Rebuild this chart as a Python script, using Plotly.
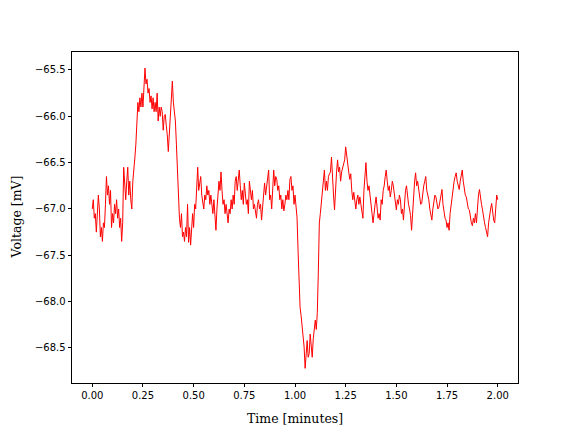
import plotly.graph_objects as go

# sampling step of the recorded trace, minutes
STEP_MIN = 0.005

voltage_mv = [
    -67.0, -66.9, -67.1, -67.05, -67.25, -67.1, -66.85, -67.0, -67.3, -67.2,
    -67.35, -67.15, -67.2, -66.95, -66.65, -66.85, -66.75, -66.95, -66.8, -67.2,
    -67.05, -67.15, -66.95, -67.05, -66.9, -67.1, -67.0, -67.2, -67.1, -67.35,
    -67.15, -66.55, -66.75, -66.9, -66.7, -66.55, -66.85, -66.7, -66.9, -67.0,
    -66.7, -66.6, -66.45, -66.3, -66.05, -65.85, -65.95, -65.8, -65.9, -65.75,
    -65.9, -65.7, -65.48, -65.65, -65.6, -65.75, -65.7, -65.85, -65.78, -65.92,
    -65.8, -65.95, -65.85, -65.95, -65.75, -66.05, -65.9, -66.0, -65.9, -65.95,
    -66.15, -66.0, -65.98, -66.1, -66.2, -66.38, -66.2, -66.1, -65.85, -65.62,
    -65.85, -65.95, -66.05, -66.3, -66.65, -66.95, -67.1, -67.2, -67.05, -67.3,
    -67.25, -67.35, -67.2, -67.3, -66.95, -67.36, -67.2, -67.39, -67.15, -67.05,
    -67.2, -66.95, -67.0, -66.8, -66.55, -66.8, -66.7, -66.65, -66.85, -66.95,
    -67.0, -66.85, -66.9, -66.75, -66.85, -66.8, -66.95, -66.85, -67.0, -67.05,
    -66.9, -67.1, -67.23, -67.0, -66.85, -66.7, -66.8, -66.6, -66.8, -66.95,
    -66.9, -67.05, -66.95, -67.1, -67.15, -67.0, -67.05, -66.9, -67.0, -66.85,
    -66.95, -66.7, -66.65, -66.8, -66.7, -66.58, -66.75, -66.9, -66.8, -66.95,
    -66.72, -66.85, -66.95, -66.9, -67.05, -66.7, -66.85, -66.9, -66.8, -67.0,
    -66.95, -67.05, -67.1, -66.95, -66.9, -67.0, -66.95, -67.12, -66.95, -66.85,
    -66.72, -66.85, -66.75, -66.7, -66.58, -66.9, -66.85, -67.0, -66.8, -66.58,
    -66.75, -66.65, -66.68, -66.8, -66.75, -66.9, -66.85, -67.0, -66.9, -67.02,
    -66.95, -66.85, -66.9, -66.8, -66.9, -66.68, -66.65, -66.8, -66.75, -66.95,
    -66.85, -67.0, -67.09, -67.44, -67.8, -68.06, -68.15, -68.27, -68.4, -68.49,
    -68.72, -68.55, -68.42, -68.6, -68.56, -68.35, -68.5, -68.6, -68.4, -68.27,
    -68.2, -68.3, -68.12, -67.69, -67.15, -67.05, -66.94, -66.8, -66.7, -66.58,
    -66.8, -66.7, -66.8, -66.65, -66.62, -66.6, -66.44, -66.7, -66.85, -67.01,
    -66.75, -66.6, -66.47, -66.6, -66.55, -66.7, -66.6, -66.55, -66.5, -66.47,
    -66.33, -66.45, -66.5, -66.6, -66.68, -66.62, -66.8, -66.9, -66.82, -66.95,
    -67.0, -66.9, -66.85, -66.95, -66.87, -66.95, -67.05, -67.1, -66.8, -66.65,
    -66.5, -66.7, -66.8, -66.75, -66.87, -67.0, -67.05, -67.15, -67.0, -66.95,
    -66.87, -67.0, -67.1, -67.05, -67.12, -66.9, -66.95, -66.8, -66.75, -66.65,
    -66.58, -66.7, -66.8, -66.75, -66.87, -66.8, -66.7, -66.75, -66.85, -66.95,
    -67.01, -66.9, -66.95, -66.85, -66.9, -67.05, -67.0, -67.12, -66.95, -66.8,
    -66.75, -66.9, -66.95, -67.0, -67.07, -67.23, -67.0, -66.8, -66.7, -66.61,
    -66.75, -66.7, -66.79, -66.85, -66.95, -66.94, -66.8, -66.75, -66.7, -66.65,
    -66.8, -66.85, -66.9, -67.0, -67.05, -67.12, -67.0, -66.9, -66.85, -66.87,
    -66.95, -67.0, -66.98, -66.9, -66.82, -66.79, -66.95, -67.05, -67.1, -67.12,
    -67.2, -67.15, -67.23, -67.05, -66.95, -66.87, -66.8, -66.7, -66.65, -66.61,
    -66.7, -66.75, -66.79, -66.7, -66.65, -66.58, -66.7, -66.8, -66.85, -66.87,
    -66.95, -67.0, -67.01, -67.1, -67.15, -67.18, -67.1, -67.15, -67.05, -67.15,
    -66.95, -66.85, -66.79, -66.9, -66.95, -67.01, -67.1, -67.15, -67.2, -67.25,
    -67.3, -67.15, -67.05, -67.0, -66.94, -67.05, -67.12, -67.15, -67.0, -66.85,
    -66.9,
]
time_min = [i * STEP_MIN for i in range(len(voltage_mv))]

x_ticks = [0.0, 0.25, 0.5, 0.75, 1.0, 1.25, 1.5, 1.75, 2.0]
y_ticks = [-65.5, -66.0, -66.5, -67.0, -67.5, -68.0, -68.5]

TICK_FONT = dict(family="DejaVu Sans", size=10, color="black")
LABEL_FONT = dict(family="DejaVu Serif", size=12.5, color="black")

fig = go.Figure()
fig.add_trace(go.Scatter(
    x=time_min, y=voltage_mv, mode="lines",
    line=dict(color="red", width=1.0), showlegend=False,
))

axis_common = dict(
    showline=True, linecolor="black", linewidth=0.8, mirror=True,
    ticks="outside", ticklen=3.5, tickwidth=0.8, tickcolor="black",
    showgrid=False, zeroline=False, tickfont=TICK_FONT,
)
fig.update_xaxes(
    range=[-0.1, 2.1], tickvals=x_ticks,
    ticktext=[f"{v:.2f}" for v in x_ticks], **axis_common,
)
fig.update_yaxes(
    range=[-68.878, -65.306], tickvals=y_ticks,
    ticktext=[f"{v:.1f}".replace("-", "\u2212") for v in y_ticks], **axis_common,
)

fig.add_annotation(
    text="Time [minutes]", xref="paper", yref="paper", x=0.5, y=0,
    yshift=-35, xanchor="center", yanchor="middle", showarrow=False,
    font=LABEL_FONT,
)
fig.add_annotation(
    text="Voltage [mV]", xref="paper", yref="paper", x=0, y=0.5,
    xshift=-56, xanchor="center", yanchor="middle", textangle=-90,
    showarrow=False, font=LABEL_FONT, borderpad=0,
)

# page body adds an 8px margin, so the figure is sized to fit inside the window
fig.update_layout(
    width=568, height=424,
    margin=dict(l=64, r=58, t=44, b=49),
    plot_bgcolor="white", paper_bgcolor="white",
)

fig.write_html("out.html")
